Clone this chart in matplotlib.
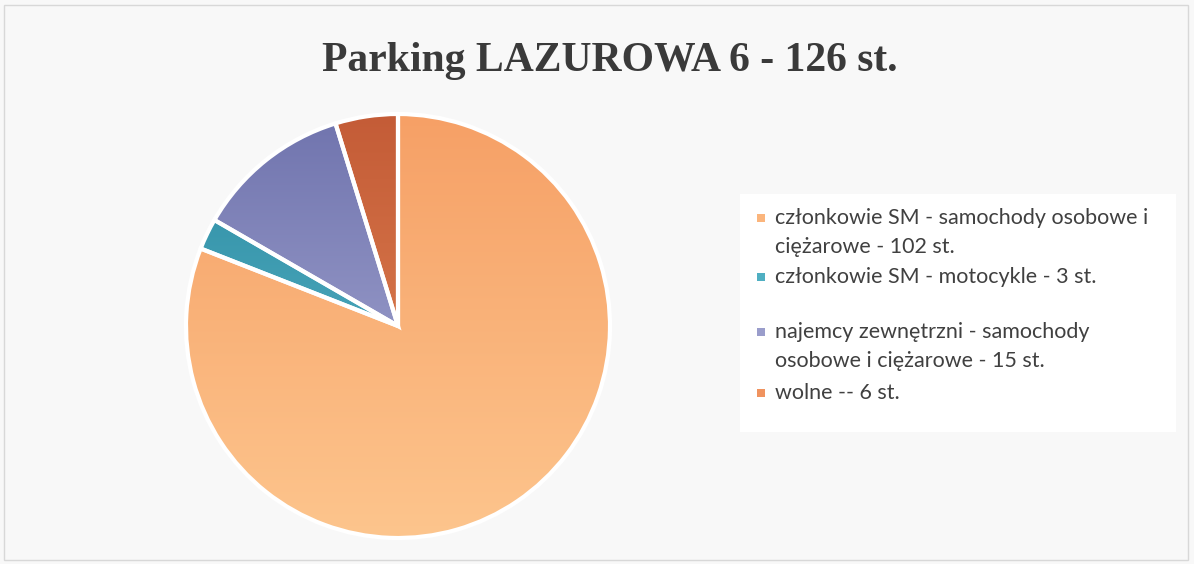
import numpy as np
import matplotlib
matplotlib.use("Agg")
import matplotlib.pyplot as plt
from matplotlib.patches import Rectangle

# data
labels = [
    "członkowie SM - samochody osobowe i\nciężarowe - 102 st.",
    "członkowie SM - motocykle - 3 st.",
    "najemcy zewnętrzni - samochody\nosobowe i ciężarowe - 15 st.",
    "wolne -- 6 st.",
]
values = [102, 3, 15, 6]
title = "Parking LAZUROWA 6 - 126 st."

# gradient colours per slice (top, bottom)
grad_top = ["#F6A066", "#2B8CA3", "#7074AE", "#C45C37"]
grad_bot = ["#FDC58D", "#62B9CB", "#AEB0D8", "#E58A58"]
legend_colors = ["#FBB57C", "#4FAFC2", "#9A9DCB", "#F0935F"]

W, H = 1194, 564
fig = plt.figure(figsize=(W / 100, H / 100), dpi=100)
fig.patch.set_facecolor("#F8F8F8")

# thin outer frame
fig.patches.append(Rectangle((4 / W, 4 / H), 1 - 10 / W, 1 - 9 / H, transform=fig.transFigure,
                             fill=False, edgecolor="#D8D8D8", linewidth=1))

# white legend area
fig.patches.append(Rectangle((740 / W, 1 - 432 / H), 436 / W, 238 / H, transform=fig.transFigure,
                             facecolor="white", edgecolor="none"))

# pie axes
cx, cy, r = 398, 326, 212
lim = 1.03
side = 2 * r * lim
ax = fig.add_axes([(cx - side / 2) / W, 1 - (cy + side / 2) / H, side / W, side / H])
wedges, _ = ax.pie(values, startangle=90, counterclock=False, colors=legend_colors,
                   wedgeprops=dict(linewidth=0))

# gradient fill clipped to each wedge
for w, ct, cb in zip(wedges, grad_top, grad_bot):
    c1 = np.array(matplotlib.colors.to_rgb(ct))
    c2 = np.array(matplotlib.colors.to_rgb(cb))
    t = np.linspace(0, 1, 256)[:, None]
    img = (c1 * (1 - t) + c2 * t)[:, None, :]
    im = ax.imshow(img, extent=[-1, 1, -1, 1], origin="upper", aspect="auto", zorder=2)
    im.set_clip_path(w)

ax.pie(values, startangle=90, counterclock=False, colors=["none"] * 4,
       wedgeprops=dict(edgecolor="white", linewidth=3, zorder=3))
ax.set_xlim(-lim, lim)
ax.set_ylim(-lim, lim)
ax.set_aspect("equal")
ax.axis("off")

# title
fig.text(610 / W, 1 - 61 / H, title, ha="center", va="center", fontsize=30,
         fontweight="bold", family="Liberation Serif", color="#3A3A3A")

# legend (manual, first line aligned with marker)
line_y = [218, 277, 332, 393]
for lab, col, y in zip(labels, legend_colors, line_y):
    fig.patches.append(Rectangle((757 / W, 1 - (y + 4) / H), 8 / W, 8 / H,
                                 transform=fig.transFigure, facecolor=col, edgecolor="none"))
    for k, part in enumerate(lab.split("\n")):
        fig.text(775 / W, 1 - (y + 29 * k) / H, part, ha="left", va="center",
                 fontsize=15.5, family="Lato", color="#404040")

fig.savefig("out.png", dpi=100, facecolor=fig.get_facecolor())
